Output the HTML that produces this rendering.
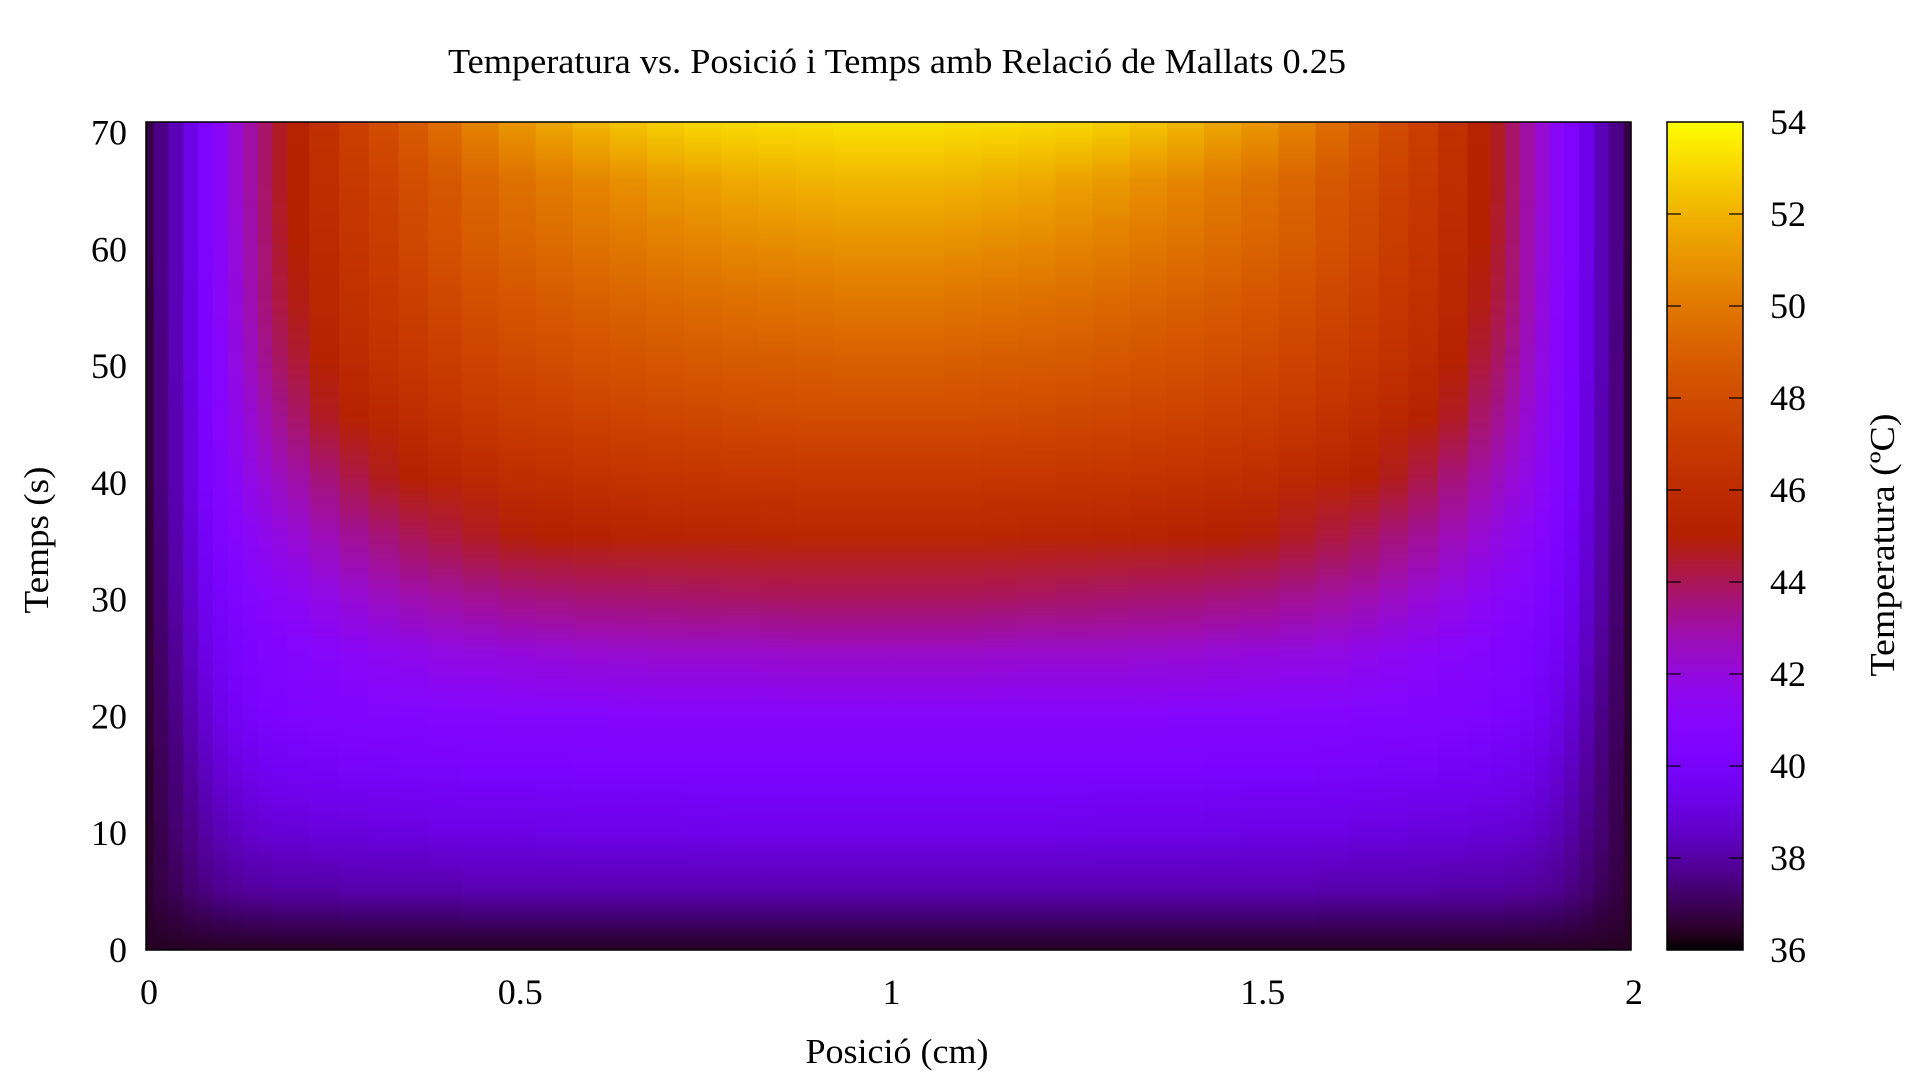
<!DOCTYPE html>
<html><head><meta charset="utf-8">
<style>
html,body{margin:0;padding:0;background:#fff;}
svg{display:block;font-family:"Liberation Serif","DejaVu Serif",serif;}
</style></head>
<body>
<svg id="chart" width="1920" height="1080" viewBox="0 0 1920 1080" xmlns="http://www.w3.org/2000/svg">
<defs id="defs"></defs>
<text x="897" y="73" font-size="35" text-anchor="middle" textLength="898" lengthAdjust="spacingAndGlyphs">Temperatura vs. Posició i Temps amb Relació de Mallats 0.25</text>
<g id="heat"></g>
<rect x="146" y="122" width="1485" height="828" fill="none" stroke="#000" stroke-width="1.5"/>
<g id="xticks"></g>
<g id="yticks"></g>
<text x="897" y="1063" font-size="35" text-anchor="middle" textLength="183" lengthAdjust="spacingAndGlyphs">Posició (cm)</text>
<text transform="translate(48,540) rotate(-90)" font-size="35" text-anchor="middle" textLength="147" lengthAdjust="spacingAndGlyphs">Temps (s)</text>
<g id="cbar"></g>
<text transform="translate(1894,545) rotate(-90)" font-size="35" text-anchor="middle" textLength="263" lengthAdjust="spacingAndGlyphs">Temperatura (ºC)</text>
</svg>
<script>
// data: half-domain positions (cm), mirrored about x=1
const xPositions = [0,0.02,0.04,0.06,0.08,0.10,0.12,0.14,0.16,0.18,0.20,0.24,0.28,0.32,0.36,0.40,0.45,0.50,0.55,0.60,0.65,0.70,0.75,0.80,0.85,0.90,0.95,1.0];
const timeRows = [0,5,10,15,20,25,30,35,40,45,50,55,60,65,70];
const tempRows = [
[36.4,36.4,36.4,36.4,36.4,36.4,36.4,36.4,36.4,36.4,36.4,36.4,36.4,36.4,36.4,36.4,36.4,36.4,36.4,36.4,36.4,36.4,36.4,36.4,36.4,36.4,36.4,36.4],
[36.5,36.8,37.0,37.3,37.5,37.7,37.8,37.9,37.9,38.0,38.0,38.0,38.1,38.1,38.1,38.1,38.2,38.2,38.2,38.2,38.2,38.2,38.2,38.2,38.2,38.2,38.2,38.2],
[36.5,36.9,37.3,37.6,38.0,38.3,38.5,38.7,38.8,38.9,38.9,39.0,39.0,39.1,39.1,39.2,39.2,39.2,39.25,39.3,39.3,39.3,39.35,39.4,39.4,39.4,39.4,39.4],
[36.5,37.0,37.4,37.9,38.4,38.8,39.1,39.3,39.5,39.6,39.7,39.8,39.9,39.9,40.0,40.0,40.1,40.1,40.15,40.2,40.2,40.2,40.2,40.2,40.2,40.2,40.2,40.2],
[36.6,37.1,37.6,38.2,38.8,39.3,39.7,40.0,40.2,40.3,40.4,40.5,40.6,40.7,40.7,40.8,40.8,40.9,40.9,40.9,40.95,41.0,41.0,41.0,41.0,41.0,41.0,41.0],
[36.6,37.2,37.8,38.5,39.2,39.7,40.0,40.3,40.5,40.6,40.8,41.0,41.2,41.4,41.6,41.8,41.9,42.0,42.1,42.2,42.25,42.3,42.3,42.3,42.35,42.4,42.4,42.4],
[36.6,37.3,38.0,38.7,39.5,40.0,40.4,40.7,41.0,41.2,41.4,41.8,42.2,42.6,42.9,43.1,43.3,43.5,43.6,43.7,43.75,43.8,43.85,43.9,43.95,44.0,44.0,44.0],
[36.6,37.4,38.1,38.9,39.8,40.4,40.9,41.3,41.6,41.9,42.2,42.7,43.2,43.6,44.0,44.3,44.6,44.9,45.05,45.2,45.3,45.4,45.45,45.5,45.55,45.6,45.6,45.6],
[36.7,37.5,38.2,39.1,40.1,40.8,41.3,41.8,42.2,42.6,43.0,43.6,44.2,44.7,45.1,45.5,45.8,46.1,46.25,46.4,46.5,46.6,46.65,46.7,46.75,46.8,46.8,46.8],
[36.7,37.5,38.2,39.1,40.2,40.9,41.6,42.2,42.8,43.3,43.8,44.6,45.2,45.6,46.0,46.4,46.8,47.1,47.3,47.5,47.6,47.7,47.8,47.9,47.95,48.0,48.0,48.0],
[36.7,37.5,38.3,39.2,40.3,41.0,41.9,42.6,43.3,43.9,44.4,45.2,45.9,46.4,46.8,47.2,47.6,47.9,48.1,48.3,48.45,48.6,48.7,48.8,48.85,48.9,49.0,49.0],
[36.7,37.6,38.3,39.2,40.3,41.1,42.0,42.8,43.6,44.3,44.8,45.6,46.3,46.8,47.3,47.8,48.2,48.5,48.75,49.0,49.2,49.4,49.55,49.7,49.8,49.9,50.0,50.0],
[36.8,37.6,38.3,39.3,40.4,41.2,42.1,42.9,43.7,44.5,45.0,45.9,46.6,47.2,47.8,48.3,48.8,49.2,49.5,49.8,50.05,50.3,50.5,50.7,50.8,50.9,51.0,51.0],
[36.8,37.6,38.3,39.3,40.4,41.2,42.2,43.0,43.8,44.6,45.2,46.1,46.9,47.5,48.1,48.6,49.2,49.7,50.1,50.5,50.85,51.2,51.45,51.7,51.85,52.0,52.1,52.1],
[36.8,37.6,38.3,39.3,40.4,41.2,42.2,43.0,43.8,44.6,45.3,46.3,47.3,48.1,48.8,49.6,50.4,51.1,51.6,52.1,52.5,52.8,53.0,53.1,53.15,53.2,53.3,53.3]
];
const xTickValues = [0,0.5,1,1.5,2];
const xTickLabels = ["0","0.5","1","1.5","2"];
const yTickValues = [0,10,20,30,40,50,60,70];
const yTickLabels = ["0","10","20","30","40","50","60","70"];
const cbTickValues = [36,38,40,42,44,46,48,50,52,54];
const cbTickLabels = ["36","38","40","42","44","46","48","50","52","54"];

const NS="http://www.w3.org/2000/svg";
const PX0=146, PX1=1631, PY0=122, PY1=950;
const xScale = v => PX0 + (v/2)*(PX1-PX0);
const yScale = t => PY1 - (t/70)*(PY1-PY0);
const CB0=36, CB1=54, CBX0=1667, CBX1=1743;
const cbScale = v => PY1 - (v-CB0)/(CB1-CB0)*(PY1-PY0);
function color(v){
  let g=(v-CB0)/(CB1-CB0); g=Math.max(0,Math.min(1,g));
  const r=Math.sqrt(g), gg=g*g*g, b=Math.max(0,Math.sin(2*Math.PI*g));
  const h=x=>Math.round(x*255).toString(16).padStart(2,'0');
  return '#'+h(r)+h(gg)+h(b);
}
function mk(tag,attrs,parent){const e=document.createElementNS(NS,tag);for(const k in attrs)e.setAttribute(k,attrs[k]);parent.appendChild(e);return e;}
const defs=document.getElementById('defs');
const heat=document.getElementById('heat');

const cols=[];
xPositions.forEach((x,i)=>cols.push({x:x,i:i}));
for(let i=xPositions.length-2;i>=0;i--) cols.push({x:2-xPositions[i],i:i});
cols.forEach((c,k)=>{
  const left = k===0 ? 0 : (cols[k-1].x+c.x)/2;
  const right = k===cols.length-1 ? 2 : (cols[k+1].x+c.x)/2;
  const gid='cg'+k;
  const grad=mk('linearGradient',{id:gid,x1:0,y1:0,x2:0,y2:1},defs);
  for(let r=timeRows.length-1;r>=0;r--){
    mk('stop',{offset:(1-timeRows[r]/70).toFixed(4),'stop-color':color(tempRows[r][c.i])},grad);
  }
  const x0=xScale(left), x1=xScale(right);
  const rect=mk('rect',{x:x0.toFixed(2),y:yScale(70),width:(x1-x0+0.6).toFixed(2),height:yScale(0)-yScale(70),fill:'url(#'+gid+')'},heat);
  
  
});

const xt=document.getElementById('xticks');
xTickValues.forEach((v,i)=>{
  const t=mk('text',{x:xScale(v)+3,y:1004,'font-size':36,'text-anchor':'middle'},xt);
  t.textContent=xTickLabels[i];
  
  
});
const yt=document.getElementById('yticks');
yTickValues.forEach((v,i)=>{
  const t=mk('text',{x:127,y:yScale(v)+12+v*0.15,'font-size':36,'text-anchor':'end'},yt);
  t.textContent=yTickLabels[i];
  
  
});

const cb=document.getElementById('cbar');
const cbg=mk('linearGradient',{id:'cbgrad',x1:0,y1:1,x2:0,y2:0},defs);
for(let k=0;k<=60;k++){mk('stop',{offset:(k/60).toFixed(4),'stop-color':color(CB0+(CB1-CB0)*k/60)},cbg);}
const cbr=mk('rect',{x:CBX0,y:PY0,width:CBX1-CBX0,height:PY1-PY0,fill:'url(#cbgrad)',stroke:'#000','stroke-width':1.5},cb);


cbTickValues.forEach((v,i)=>{
  const y=cbScale(v);
  if(i>0 && i<cbTickValues.length-1){
    const l1=mk('line',{x1:CBX0,x2:CBX0+14,y1:y,y2:y,stroke:'#000','stroke-width':1.2},cb);
    
    
    const l2=mk('line',{x1:CBX1-14,x2:CBX1,y1:y,y2:y,stroke:'#000','stroke-width':1.2},cb);
    
    
  }
  const t=mk('text',{x:1770,y:y+12,'font-size':36},cb);
  t.textContent=cbTickLabels[i];
  
  
});
</script>
</body></html>
